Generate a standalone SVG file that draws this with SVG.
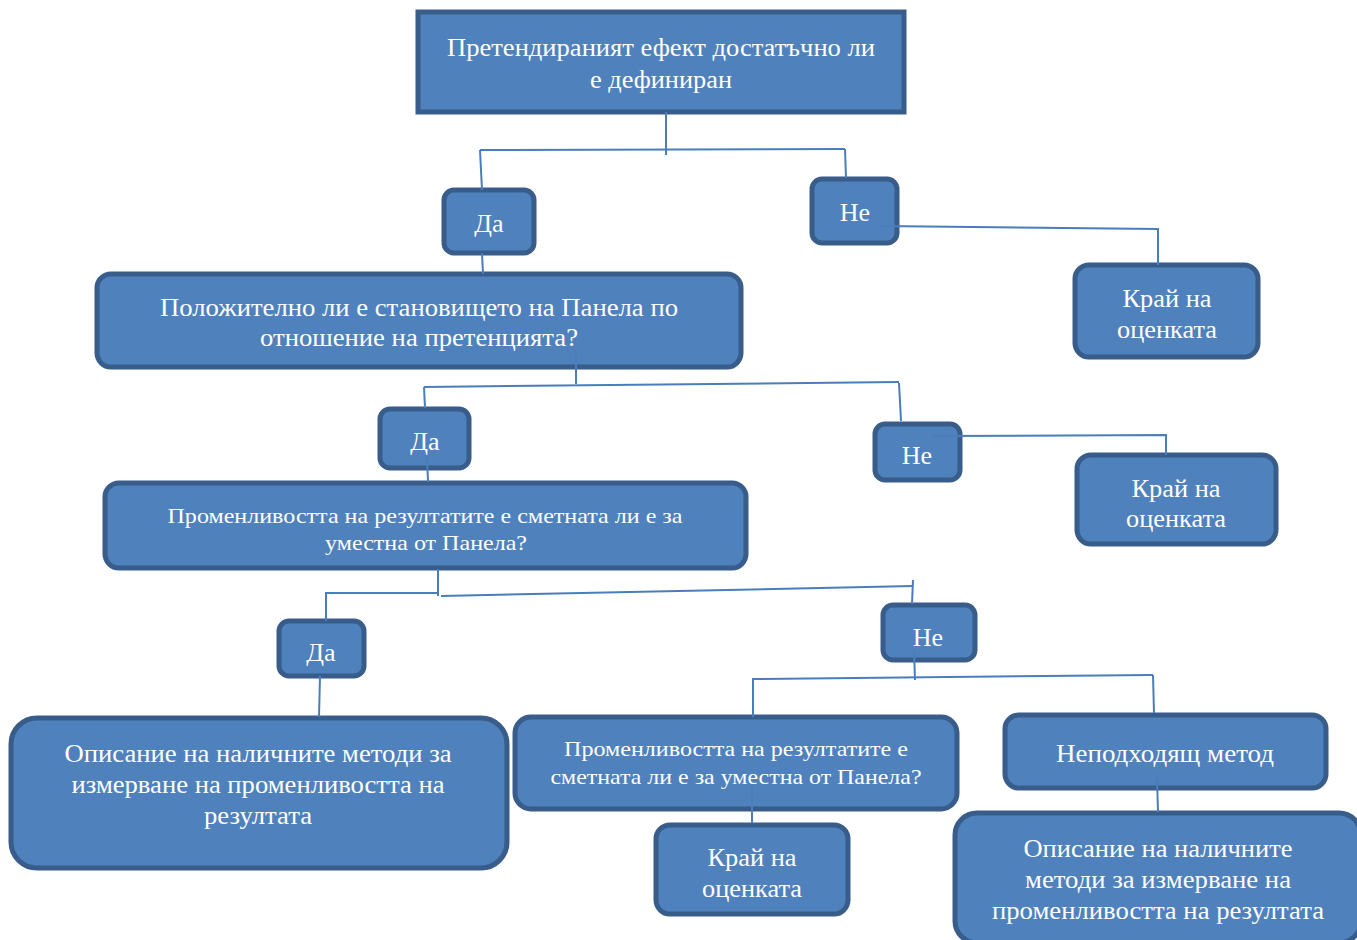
<svg xmlns="http://www.w3.org/2000/svg" width="1357" height="940" viewBox="0 0 1357 940">
<style>
.b{fill:#4F81BD;stroke:#385D8A;stroke-width:5}
.t{fill:#FFFFFF;font-family:"Liberation Serif","Times New Roman",serif;font-size:26px;text-anchor:middle}
.s{font-size:21px}
.c{fill:none;stroke:#4A7EBB;stroke-width:2}
</style>
<rect width="1357" height="940" fill="#FFFFFF"/>
<g id="n1"><rect class="b" x="418" y="12" width="486" height="100"/><text class="t" x="661" y="56" textLength="428" lengthAdjust="spacingAndGlyphs">Претендираният ефект достатъчно ли</text><text class="t" x="661" y="88" textLength="142" lengthAdjust="spacingAndGlyphs">е дефиниран</text></g>
<g id="n2"><rect class="b" x="444" y="190" width="90" height="63" rx="10"/><text class="t" x="489" y="232">Да</text></g>
<g id="n3"><rect class="b" x="812" y="179" width="85" height="64" rx="10"/><text class="t" x="855" y="221">Не</text></g>
<g id="n4"><rect class="b" x="1075" y="265" width="183" height="92" rx="14"/><text class="t" x="1167" y="307" textLength="89" lengthAdjust="spacingAndGlyphs">Край на</text><text class="t" x="1167" y="338" textLength="100" lengthAdjust="spacingAndGlyphs">оценката</text></g>
<g id="n5"><rect class="b" x="97" y="274" width="644" height="93" rx="14"/><text class="t" x="419" y="316" textLength="518" lengthAdjust="spacingAndGlyphs">Положително ли е становището на Панела по</text><text class="t" x="419" y="346" textLength="318" lengthAdjust="spacingAndGlyphs">отношение на претенцията?</text></g>
<g id="n6"><rect class="b" x="380" y="409" width="89" height="59" rx="10"/><text class="t" x="425" y="450">Да</text></g>
<g id="n7"><rect class="b" x="875" y="424" width="85" height="56" rx="10"/><text class="t" x="917" y="464">Не</text></g>
<g id="n8"><rect class="b" x="1077" y="455" width="199" height="89" rx="14"/><text class="t" x="1176" y="497" textLength="89" lengthAdjust="spacingAndGlyphs">Край на</text><text class="t" x="1176" y="527" textLength="100" lengthAdjust="spacingAndGlyphs">оценката</text></g>
<g id="n9"><rect class="b" x="105" y="483" width="641" height="85" rx="14"/><text class="t s" x="425" y="523" textLength="515" lengthAdjust="spacingAndGlyphs">Променливостта на резултатите е сметната ли е за</text><text class="t s" x="426" y="550" textLength="202" lengthAdjust="spacingAndGlyphs">уместна от Панела?</text></g>
<g id="n10"><rect class="b" x="279" y="621" width="85" height="55" rx="10"/><text class="t" x="321" y="661">Да</text></g>
<g id="n11"><rect class="b" x="883" y="605" width="92" height="55" rx="10"/><text class="t" x="928" y="646">Не</text></g>
<g id="n12"><rect class="b" x="11" y="718" width="496" height="150" rx="26"/><text class="t" x="258" y="762" textLength="387" lengthAdjust="spacingAndGlyphs">Описание на наличните методи за</text><text class="t" x="258" y="793" textLength="373" lengthAdjust="spacingAndGlyphs">измерване на променливостта на</text><text class="t" x="258" y="824" textLength="108" lengthAdjust="spacingAndGlyphs">резултата</text></g>
<g id="n13"><rect class="b" x="515" y="717" width="442" height="92" rx="16"/><text class="t s" x="736" y="756" textLength="344" lengthAdjust="spacingAndGlyphs">Променливостта на резултатите е</text><text class="t s" x="736" y="784" textLength="371" lengthAdjust="spacingAndGlyphs">сметната ли е за уместна от Панела?</text></g>
<g id="n14"><rect class="b" x="656" y="825" width="192" height="89" rx="14"/><text class="t" x="752" y="866" textLength="89" lengthAdjust="spacingAndGlyphs">Край на</text><text class="t" x="752" y="897" textLength="100" lengthAdjust="spacingAndGlyphs">оценката</text></g>
<g id="n15"><rect class="b" x="1005" y="715" width="321" height="73" rx="14"/><text class="t" x="1165" y="762" textLength="218" lengthAdjust="spacingAndGlyphs">Неподходящ метод</text></g>
<g id="n16"><rect class="b" x="955" y="813" width="406" height="130" rx="22"/><text class="t" x="1158" y="857" textLength="269" lengthAdjust="spacingAndGlyphs">Описание на наличните</text><text class="t" x="1158" y="888" textLength="266" lengthAdjust="spacingAndGlyphs">методи за измерване на</text><text class="t" x="1158" y="919" textLength="332" lengthAdjust="spacingAndGlyphs">променливостта на резултата</text></g>
<g id="connectors">
<path class="c" d="M666,112 L666,155"/>
<path class="c" d="M480,150 L845,149"/>
<path class="c" d="M480,150 L482,190"/>
<path class="c" d="M845,149 L846,178"/>
<path class="c" d="M482,253 L483,274"/>
<path class="c" d="M880,226 L1158,229 L1158,265"/>
<path class="c" d="M576,350 L576,384"/>
<path class="c" d="M424,387 L899,382"/>
<path class="c" d="M424,387 L425,408"/>
<path class="c" d="M899,383 L901,421"/>
<path class="c" d="M427,455 L428,482"/>
<path class="c" d="M933,436 L1166,435 L1166,455"/>
<path class="c" d="M438,569 L438,596"/>
<path class="c" d="M326,621 L326,593 L438,593"/>
<path class="c" d="M441,596 L913,586"/>
<path class="c" d="M913,580 L912,604"/>
<path class="c" d="M320,676 L319,717"/>
<path class="c" d="M914,650 L915,680"/>
<path class="c" d="M752,679 L1153,675"/>
<path class="c" d="M753,679 L753,717"/>
<path class="c" d="M1153,675 L1154,713"/>
<path class="c" d="M752,785 L752,823"/>
<path class="c" d="M1157,778 L1158,812"/>
</g>
</svg>
